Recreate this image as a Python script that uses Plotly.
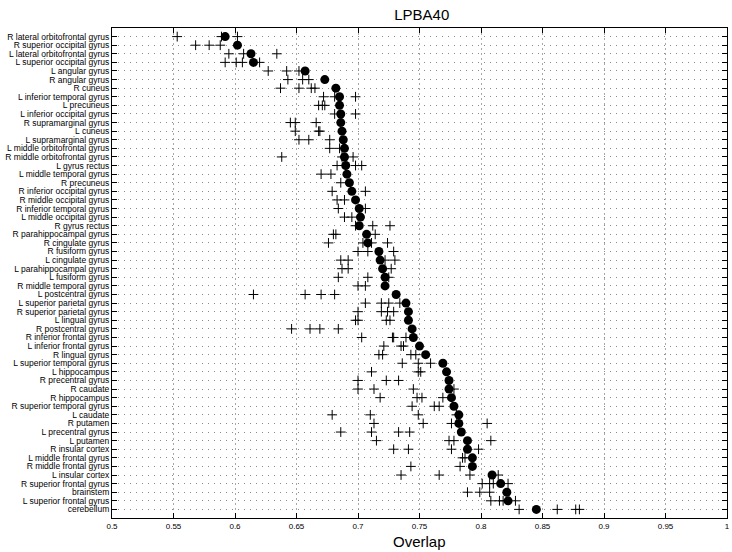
import plotly.graph_objects as go

regions = [
    "R lateral orbitofrontal gyrus", "R superior occipital gyrus", "L lateral orbitofrontal gyrus",
    "L superior occipital gyrus", "L angular gyrus", "R angular gyrus", "R cuneus",
    "L inferior temporal gyrus", "L precuneus", "L inferior occipital gyrus",
    "R supramarginal gyrus", "L cuneus", "L supramarginal gyrus", "L middle orbitofrontal gyrus",
    "R middle orbitofrontal gyrus", "L gyrus rectus", "L middle temporal gyrus", "R precuneus",
    "R inferior occipital gyrus", "R middle occipital gyrus", "R inferior temporal gyrus",
    "L middle occipital gyrus", "R gyrus rectus", "R parahippocampal gyrus", "R cingulate gyrus",
    "R fusiform gyrus", "L cingulate gyrus", "L parahippocampal gyrus", "L fusiform gyrus",
    "R middle temporal gyrus", "L postcentral gyrus", "L superior parietal gyrus",
    "R superior parietal gyrus", "L lingual gyrus", "R postcentral gyrus", "R inferior frontal gyrus",
    "L inferior frontal gyrus", "R lingual gyrus", "L superior temporal gyrus", "L hippocampus",
    "R precentral gyrus", "R caudate", "R hippocampus", "R superior temporal gyrus", "L caudate",
    "R putamen", "L precentral gyrus", "L putamen", "R insular cortex", "L middle frontal gyrus",
    "R middle frontal gyrus", "L insular cortex", "R superior frontal gyrus", "brainstem",
    "L superior frontal gyrus", "cerebellum",
]

mean_overlap = [
    0.592, 0.602, 0.613, 0.615, 0.657, 0.673, 0.682, 0.685, 0.685, 0.686,
    0.686, 0.687, 0.688, 0.689, 0.689, 0.690, 0.691, 0.693, 0.695, 0.698,
    0.701, 0.702, 0.701, 0.707, 0.708, 0.717, 0.718, 0.720, 0.722, 0.722,
    0.731, 0.739, 0.741, 0.741, 0.744, 0.745, 0.750, 0.755, 0.769, 0.772,
    0.774, 0.774, 0.776, 0.778, 0.782, 0.782, 0.784, 0.789, 0.789, 0.793,
    0.793, 0.809, 0.816, 0.821, 0.822, 0.845,
]

fold_overlap = [
    [0.553, 0.589, 0.602],
    [0.568, 0.579, 0.588],
    [0.595, 0.607, 0.634],
    [0.592, 0.601, 0.606, 0.620],
    [0.627, 0.642, 0.652],
    [0.643, 0.655, 0.660],
    [0.637, 0.652, 0.662, 0.665],
    [0.672, 0.681, 0.698],
    [0.668, 0.671, 0.673],
    [0.681, 0.698],
    [0.645, 0.649, 0.666],
    [0.649, 0.668, 0.669],
    [0.652, 0.660, 0.677],
    [0.677, 0.685],
    [0.638, 0.687, 0.696],
    [0.683, 0.698, 0.703],
    [0.670, 0.678],
    [0.686],
    [0.679, 0.706],
    [0.683, 0.689],
    [0.684, 0.706],
    [0.689, 0.695],
    [0.698, 0.712, 0.726],
    [0.680, 0.682, 0.714],
    [0.676, 0.704, 0.711, 0.724],
    [0.700, 0.708, 0.729],
    [0.686, 0.692, 0.722, 0.730],
    [0.687, 0.692, 0.727],
    [0.684, 0.708, 0.725],
    [0.700, 0.706],
    [0.615, 0.657, 0.670, 0.681],
    [0.706, 0.719, 0.725, 0.734],
    [0.700, 0.719, 0.724, 0.729],
    [0.698, 0.700, 0.723, 0.726],
    [0.646, 0.661, 0.669, 0.684],
    [0.703, 0.728, 0.729, 0.739],
    [0.721, 0.735, 0.737],
    [0.717, 0.720, 0.743, 0.747],
    [0.736, 0.749, 0.759],
    [0.711, 0.749, 0.751],
    [0.700, 0.723, 0.733],
    [0.700, 0.713, 0.745, 0.778],
    [0.718, 0.748, 0.752, 0.769],
    [0.744, 0.762, 0.766],
    [0.679, 0.710, 0.749, 0.780],
    [0.713, 0.753, 0.776, 0.805],
    [0.686, 0.711, 0.733, 0.742],
    [0.715, 0.774, 0.778, 0.808],
    [0.729, 0.741, 0.776, 0.798],
    [0.785, 0.787],
    [0.743, 0.783],
    [0.735, 0.766, 0.791, 0.814],
    [0.801, 0.807, 0.810, 0.822],
    [0.789, 0.799, 0.807],
    [0.808, 0.815, 0.818, 0.828],
    [0.831, 0.862, 0.877, 0.880],
]

x_tick_values = [0.5, 0.55, 0.6, 0.65, 0.7, 0.75, 0.8, 0.85, 0.9, 0.95, 1.0]
x_tick_labels = ["0.5", "0.55", "0.6", "0.65", "0.7", "0.75", "0.8", "0.85", "0.9", "0.95", "1"]

fold_x = []
fold_y = []
for name, vals in zip(regions, fold_overlap):
    for v in vals:
        fold_x.append(v)
        fold_y.append(name)

FONT = "Liberation Sans, Arial, Helvetica, sans-serif"

fig = go.Figure()
fig.add_trace(go.Scatter(
    x=fold_x, y=fold_y, mode="markers",
    marker=dict(symbol="cross-thin", size=7, color="black",
                line=dict(color="black", width=1)),
    showlegend=False, cliponaxis=False,
))
fig.add_trace(go.Scatter(
    x=mean_overlap, y=regions, mode="markers",
    marker=dict(symbol="circle", size=9, color="black"),
    showlegend=False,
))

fig.update_layout(
    width=732, height=552,
    margin=dict(l=112, r=2, t=28, b=34),
    paper_bgcolor="white", plot_bgcolor="white",
    font=dict(family=FONT, color="black"),
    title=dict(text="LPBA40", x=0.5762, xanchor="center", y=1 - 15 / 552, yanchor="middle",
               font=dict(size=15, family=FONT, color="black")),
    annotations=[dict(text="Overlap", xref="paper", yref="paper", x=0.5, y=-(541 - 518) / 490,
                      xanchor="center", yanchor="middle", showarrow=False,
                      font=dict(size=15, family=FONT, color="black"))],
)
fig.update_xaxes(
    range=[0.5, 1.0], tickmode="array", tickvals=x_tick_values, ticktext=x_tick_labels,
    ticks="inside", ticklen=5, tickcolor="black", tickwidth=1,
    showline=True, linecolor="black", linewidth=1, mirror="ticks",
    showgrid=True, gridcolor="#a8a8a8", gridwidth=1, griddash="2px,3px",
    zeroline=False, tickfont=dict(size=8, family=FONT, color="black"),
    ticklabeloverflow="allow",
)
fig.update_yaxes(
    type="category", categoryorder="array", categoryarray=regions,
    tickmode="array", tickvals=regions, ticktext=regions,
    range=[56, -1],
    ticks="inside", ticklen=5, tickcolor="black", tickwidth=1,
    showline=True, linecolor="black", linewidth=1, mirror="ticks",
    showgrid=True, gridcolor="#8a8a8a", gridwidth=1, griddash="1px,5px",
    zeroline=False, tickfont=dict(size=8.5, family=FONT, color="black"),
    ticklabeloverflow="allow",
)

fig.write_html("out.html")
